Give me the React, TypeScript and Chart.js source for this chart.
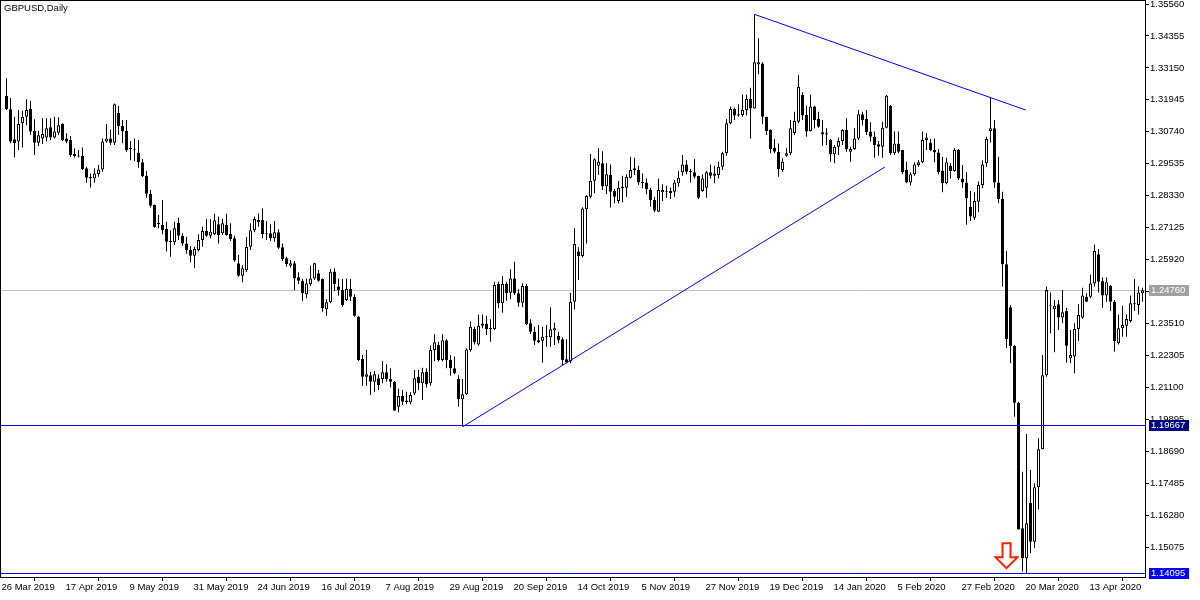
import React, { useEffect, useRef } from 'react';
import { Chart, registerables } from 'chart.js';
Chart.register(...registerables);

const TITLE = 'GBPUSD,Daily';

const OPEN = [
  1.3209, 1.3159, 1.3046, 1.3037, 1.3106, 1.3131, 1.3160, 1.3077, 1.3033, 1.3049,
  1.3052, 1.3091, 1.3052, 1.3070, 1.3103, 1.3049, 1.3043, 1.2990, 1.2983, 1.2983,
  1.2936, 1.2901, 1.2898, 1.2915, 1.2932, 1.3037, 1.3049, 1.3033, 1.3146, 1.3096,
  1.3078, 1.3014, 1.3008, 1.2995, 1.2959, 1.2908, 1.2840, 1.2798, 1.2731, 1.2722,
  1.2707, 1.2663, 1.2657, 1.2731, 1.2682, 1.2653, 1.2629, 1.2606, 1.2628, 1.2666,
  1.2700, 1.2682, 1.2687, 1.2725, 1.2691, 1.2722, 1.2688, 1.2672, 1.2578, 1.2531,
  1.2553, 1.2640, 1.2703, 1.2733, 1.2741, 1.2691, 1.2691, 1.2672, 1.2695, 1.2638,
  1.2597, 1.2569, 1.2578, 1.2525, 1.2512, 1.2461, 1.2499, 1.2521, 1.2540, 1.2519,
  1.2405, 1.2431, 1.2546, 1.2490, 1.2477, 1.2439, 1.2481, 1.2452, 1.2376, 1.2217,
  1.2150, 1.2156, 1.2131, 1.2144, 1.2141, 1.2167, 1.2141, 1.2131, 1.2037, 1.2077,
  1.2060, 1.2054, 1.2087, 1.2150, 1.2125, 1.2169, 1.2125, 1.2251, 1.2270, 1.2213,
  1.2288, 1.2213, 1.2182, 1.2141, 1.2065, 1.2084, 1.2251, 1.2330, 1.2272, 1.2342,
  1.2351, 1.2335, 1.2329, 1.2500, 1.2427, 1.2500, 1.2467, 1.2521, 1.2465, 1.2429,
  1.2492, 1.2352, 1.2320, 1.2280, 1.2286, 1.2301, 1.2299, 1.2324, 1.2304, 1.2291,
  1.2216, 1.2207, 1.2433, 1.2622, 1.2605, 1.2782, 1.2829, 1.2889, 1.2946, 1.2955,
  1.2869, 1.2911, 1.2851, 1.2813, 1.2861, 1.2863, 1.2901, 1.2929, 1.2930, 1.2883,
  1.2883, 1.2854, 1.2817, 1.2772, 1.2846, 1.2848, 1.2851, 1.2848, 1.2880, 1.2921,
  1.2951, 1.2926, 1.2921, 1.2907, 1.2851, 1.2863, 1.2921, 1.2908, 1.2911, 1.2942,
  1.2993, 1.3106, 1.3160, 1.3140, 1.3137, 1.3156, 1.3198, 1.3162, 1.3328, 1.3332,
  1.3131, 1.3081, 1.3014, 1.2999, 1.2930, 1.2984, 1.2993, 1.3068, 1.3112, 1.3213,
  1.3137, 1.3077, 1.3169, 1.3122, 1.3072, 1.3068, 1.3043, 1.2989, 1.3018, 1.3039,
  1.3081, 1.2999, 1.3009, 1.3049, 1.3140, 1.3122, 1.3075, 1.3055, 1.3027, 1.3018,
  1.3089, 1.3171, 1.2993, 1.3030, 1.3005, 1.2930, 1.2883, 1.2914, 1.2949, 1.2959,
  1.3043, 1.3034, 1.3005, 1.2996, 1.2926, 1.2880, 1.2946, 1.2926, 1.3005, 1.2898,
  1.2883, 1.2791, 1.2750, 1.2810, 1.2873, 1.2955, 1.3077, 1.3087, 1.2883, 1.2820,
  1.2574, 1.2412, 1.2266, 1.2052, 1.1578, 1.1465, 1.1675, 1.1528, 1.1733, 1.1876,
  1.2156, 1.2421, 1.2405, 1.2423, 1.2373, 1.2398, 1.2220, 1.2226, 1.2330, 1.2373,
  1.2452, 1.2452, 1.2502, 1.2612, 1.2511, 1.2456, 1.2493, 1.2433, 1.2276, 1.2333,
  1.2342, 1.2360, 1.2423, 1.2421, 1.2465,
];

const HIGH = [
  1.3276, 1.3201, 1.3131, 1.3156, 1.3153, 1.3197, 1.3191, 1.3121, 1.3078, 1.3125,
  1.3125, 1.3125, 1.3131, 1.3129, 1.3106, 1.3068, 1.3058, 1.3012, 1.3005, 1.3015,
  1.2942, 1.2917, 1.2936, 1.2949, 1.3049, 1.3103, 1.3083, 1.3181, 1.3171, 1.3118,
  1.3118, 1.3039, 1.3049, 1.3043, 1.2971, 1.2926, 1.2854, 1.2800, 1.2760, 1.2817,
  1.2735, 1.2703, 1.2735, 1.2750, 1.2691, 1.2678, 1.2643, 1.2640, 1.2687, 1.2716,
  1.2745, 1.2745, 1.2765, 1.2754, 1.2745, 1.2765, 1.2729, 1.2682, 1.2609, 1.2571,
  1.2677, 1.2729, 1.2754, 1.2766, 1.2785, 1.2737, 1.2725, 1.2737, 1.2706, 1.2653,
  1.2603, 1.2590, 1.2587, 1.2544, 1.2519, 1.2521, 1.2569, 1.2580, 1.2553, 1.2521,
  1.2443, 1.2556, 1.2559, 1.2521, 1.2519, 1.2521, 1.2519, 1.2461, 1.2380, 1.2232,
  1.2251, 1.2169, 1.2172, 1.2159, 1.2209, 1.2197, 1.2182, 1.2134, 1.2106, 1.2100,
  1.2093, 1.2091, 1.2175, 1.2175, 1.2184, 1.2182, 1.2267, 1.2310, 1.2282, 1.2310,
  1.2292, 1.2232, 1.2226, 1.2156, 1.2141, 1.2257, 1.2358, 1.2339, 1.2385, 1.2385,
  1.2380, 1.2367, 1.2508, 1.2508, 1.2530, 1.2508, 1.2555, 1.2584, 1.2480, 1.2502,
  1.2500, 1.2367, 1.2339, 1.2345, 1.2339, 1.2345, 1.2412, 1.2354, 1.2320, 1.2299,
  1.2291, 1.2467, 1.2710, 1.2638, 1.2789, 1.2835, 1.2990, 1.2974, 1.3012, 1.3001,
  1.2955, 1.2951, 1.2858, 1.2888, 1.2908, 1.2914, 1.2980, 1.2976, 1.2946, 1.2917,
  1.2898, 1.2863, 1.2829, 1.2898, 1.2876, 1.2870, 1.2863, 1.2892, 1.2926, 1.2986,
  1.2967, 1.2934, 1.2971, 1.2908, 1.2914, 1.2926, 1.2951, 1.2946, 1.2961, 1.2999,
  1.3122, 1.3169, 1.3165, 1.3178, 1.3215, 1.3215, 1.3240, 1.3517, 1.3427, 1.3336,
  1.3131, 1.3084, 1.3047, 1.3030, 1.2974, 1.3014, 1.3118, 1.3150, 1.3288, 1.3223,
  1.3172, 1.3215, 1.3172, 1.3150, 1.3118, 1.3087, 1.3047, 1.3024, 1.3052, 1.3084,
  1.3125, 1.3018, 1.3087, 1.3156, 1.3150, 1.3156, 1.3110, 1.3075, 1.3039, 1.3112,
  1.3213, 1.3175, 1.3075, 1.3075, 1.3005, 1.2961, 1.2921, 1.2959, 1.2967, 1.3075,
  1.3068, 1.3047, 1.3049, 1.3009, 1.2980, 1.2976, 1.2955, 1.3012, 1.3009, 1.2949,
  1.2921, 1.2851, 1.2846, 1.2886, 1.2967, 1.3055, 1.3202, 1.3118, 1.2980, 1.2848,
  1.2624, 1.2421, 1.2270, 1.2056, 1.1792, 1.1934, 1.1798, 1.1748, 1.1918, 1.2232,
  1.2490, 1.2468, 1.2439, 1.2439, 1.2477, 1.2410, 1.2326, 1.2352, 1.2423, 1.2486,
  1.2465, 1.2536, 1.2649, 1.2632, 1.2524, 1.2524, 1.2496, 1.2439, 1.2385, 1.2418,
  1.2385, 1.2456, 1.2519, 1.2490, 1.2486,
];

const LOW = [
  1.3156, 1.3031, 1.2977, 1.3005, 1.3015, 1.3099, 1.3062, 1.2986, 1.3020, 1.3028,
  1.3037, 1.3043, 1.3049, 1.3062, 1.3039, 1.3031, 1.2980, 1.2977, 1.2977, 1.2930,
  1.2882, 1.2864, 1.2882, 1.2904, 1.2923, 1.3033, 1.3024, 1.3024, 1.3062, 1.3031,
  1.2999, 1.2967, 1.2964, 1.2938, 1.2903, 1.2825, 1.2788, 1.2712, 1.2710, 1.2687,
  1.2622, 1.2603, 1.2647, 1.2666, 1.2644, 1.2614, 1.2582, 1.2559, 1.2622, 1.2640,
  1.2678, 1.2672, 1.2685, 1.2653, 1.2685, 1.2682, 1.2662, 1.2584, 1.2527, 1.2506,
  1.2545, 1.2628, 1.2695, 1.2716, 1.2672, 1.2666, 1.2662, 1.2659, 1.2632, 1.2587,
  1.2565, 1.2561, 1.2477, 1.2499, 1.2436, 1.2446, 1.2493, 1.2515, 1.2508, 1.2395,
  1.2380, 1.2427, 1.2473, 1.2456, 1.2414, 1.2436, 1.2436, 1.2376, 1.2209, 1.2116,
  1.2116, 1.2081, 1.2093, 1.2100, 1.2125, 1.2131, 1.2109, 1.2021, 1.2016, 1.2043,
  1.2046, 1.2046, 1.2081, 1.2100, 1.2062, 1.2109, 1.2116, 1.2209, 1.2207, 1.2207,
  1.2182, 1.2154, 1.2159, 1.2037, 1.1961, 1.2081, 1.2244, 1.2272, 1.2267, 1.2333,
  1.2307, 1.2282, 1.2326, 1.2408, 1.2391, 1.2437, 1.2442, 1.2458, 1.2414, 1.2412,
  1.2345, 1.2311, 1.2270, 1.2276, 1.2203, 1.2263, 1.2263, 1.2270, 1.2276, 1.2194,
  1.2201, 1.2201, 1.2404, 1.2515, 1.2600, 1.2653, 1.2823, 1.2842, 1.2911, 1.2854,
  1.2839, 1.2788, 1.2804, 1.2804, 1.2808, 1.2829, 1.2898, 1.2911, 1.2873, 1.2861,
  1.2838, 1.2791, 1.2770, 1.2772, 1.2813, 1.2825, 1.2820, 1.2829, 1.2867, 1.2908,
  1.2914, 1.2883, 1.2898, 1.2820, 1.2848, 1.2825, 1.2898, 1.2880, 1.2898, 1.2930,
  1.2984, 1.3102, 1.3118, 1.3131, 1.3131, 1.3135, 1.3049, 1.3162, 1.3291, 1.3102,
  1.3062, 1.2993, 1.2993, 1.2904, 1.2923, 1.2980, 1.2986, 1.3062, 1.3106, 1.3118,
  1.3055, 1.3075, 1.3087, 1.3089, 1.3021, 1.3024, 1.2961, 1.2955, 1.2986, 1.3024,
  1.2999, 1.2961, 1.3005, 1.3043, 1.3099, 1.3062, 1.3037, 1.2976, 1.2984, 1.2976,
  1.3087, 1.2986, 1.2986, 1.2993, 1.2914, 1.2880, 1.2871, 1.2908, 1.2942, 1.2955,
  1.3005, 1.3001, 1.2959, 1.2914, 1.2846, 1.2876, 1.2898, 1.2923, 1.2892, 1.2863,
  1.2723, 1.2737, 1.2741, 1.2770, 1.2861, 1.2942, 1.3034, 1.2863, 1.2804, 1.2490,
  1.2257, 1.2201, 1.1999, 1.1574, 1.1415, 1.14095, 1.1484, 1.1503, 1.1649, 1.1876,
  1.2150, 1.2314, 1.2242, 1.2326, 1.2352, 1.2204, 1.2201, 1.2163, 1.2285, 1.2368,
  1.2433, 1.2446, 1.2490, 1.2468, 1.2410, 1.2433, 1.2398, 1.2244, 1.2272, 1.2301,
  1.2301, 1.2355, 1.2398, 1.2385, 1.2433,
];

const CLOSE = [
  1.3159, 1.3037, 1.3031, 1.3103, 1.3131, 1.3156, 1.3075, 1.3033, 1.3061, 1.3066,
  1.3087, 1.3052, 1.3075, 1.3099, 1.3043, 1.3037, 1.2986, 1.2983, 1.2981, 1.2934,
  1.2901, 1.2900, 1.2917, 1.2932, 1.3037, 1.3049, 1.3033, 1.3178, 1.3096, 1.3075,
  1.3004, 1.3009, 1.3004, 1.2959, 1.2906, 1.2840, 1.2795, 1.2714, 1.2725, 1.2703,
  1.2659, 1.2657, 1.2710, 1.2682, 1.2653, 1.2627, 1.2606, 1.2632, 1.2666, 1.2700,
  1.2682, 1.2697, 1.2740, 1.2685, 1.2729, 1.2685, 1.2670, 1.2588, 1.2531, 1.2559,
  1.2639, 1.2703, 1.2745, 1.2741, 1.2687, 1.2687, 1.2672, 1.2695, 1.2637, 1.2594,
  1.2575, 1.2578, 1.2521, 1.2512, 1.2465, 1.2502, 1.2521, 1.2578, 1.2512, 1.2408,
  1.2431, 1.2546, 1.2499, 1.2477, 1.2421, 1.2481, 1.2452, 1.2380, 1.2213, 1.2150,
  1.2159, 1.2131, 1.2159, 1.2119, 1.2167, 1.2141, 1.2131, 1.2022, 1.2077, 1.2056,
  1.2054, 1.2081, 1.2144, 1.2125, 1.2167, 1.2121, 1.2251, 1.2280, 1.2213, 1.2288,
  1.2213, 1.2182, 1.2163, 1.2065, 1.2084, 1.2253, 1.2339, 1.2280, 1.2342, 1.2351,
  1.2330, 1.2329, 1.2496, 1.2427, 1.2500, 1.2465, 1.2521, 1.2465, 1.2429, 1.2492,
  1.2349, 1.2320, 1.2286, 1.2288, 1.2301, 1.2299, 1.2329, 1.2333, 1.2288, 1.2213,
  1.2204, 1.2433, 1.2651, 1.2605, 1.2785, 1.2832, 1.2889, 1.2970, 1.2961, 1.2869,
  1.2914, 1.2848, 1.2829, 1.2863, 1.2866, 1.2904, 1.2930, 1.2936, 1.2883, 1.2881,
  1.2857, 1.2817, 1.2776, 1.2854, 1.2854, 1.2850, 1.2842, 1.2883, 1.2901, 1.2951,
  1.2923, 1.2921, 1.2904, 1.2825, 1.2898, 1.2921, 1.2908, 1.2917, 1.2942, 1.2993,
  1.3106, 1.3160, 1.3135, 1.3135, 1.3156, 1.3198, 1.3162, 1.3336, 1.3336, 1.3131,
  1.3077, 1.3009, 1.2999, 1.2934, 1.2961, 1.2993, 1.3087, 1.3115, 1.3244, 1.3135,
  1.3075, 1.3169, 1.3118, 1.3093, 1.3064, 1.3064, 1.2989, 1.3018, 1.3039, 1.3081,
  1.3009, 1.3009, 1.3049, 1.3140, 1.3118, 1.3072, 1.3055, 1.3024, 1.3018, 1.3089,
  1.3210, 1.2993, 1.3030, 1.2999, 1.2921, 1.2883, 1.2914, 1.2951, 1.2959, 1.3043,
  1.3052, 1.3005, 1.2996, 1.2921, 1.2880, 1.2959, 1.2926, 1.3005, 1.2898, 1.2883,
  1.2823, 1.2754, 1.2813, 1.2873, 1.2951, 1.3047, 1.3087, 1.2883, 1.2820, 1.2574,
  1.2291, 1.2266, 1.2052, 1.1574, 1.1465, 1.1597, 1.1528, 1.1733, 1.1876, 1.2156,
  1.2477, 1.2418, 1.2418, 1.2373, 1.2393, 1.2267, 1.2232, 1.2330, 1.2383, 1.2456,
  1.2433, 1.2502, 1.2624, 1.2508, 1.2456, 1.2506, 1.2433, 1.2285, 1.2333, 1.2345,
  1.2368, 1.2427, 1.2427, 1.2468, 1.2476,
];

const X_TICK_LABELS = [
  '26 Mar 2019', '17 Apr 2019', '9 May 2019', '31 May 2019', '24 Jun 2019', '16 Jul 2019',
  '7 Aug 2019', '29 Aug 2019', '20 Sep 2019', '14 Oct 2019', '5 Nov 2019', '27 Nov 2019',
  '19 Dec 2019', '14 Jan 2020', '5 Feb 2020', '27 Feb 2020', '20 Mar 2020', '13 Apr 2020',
];
const X_TICK_FIRST = -1;
const X_TICK_STEP = 16;
const X_MIN = -1.625;
const X_MAX = 284.625;

const Y_TICKS = [
  1.3556, 1.34355, 1.3315, 1.31945, 1.3074, 1.29535, 1.2833, 1.27125, 1.2592,
  1.24715, 1.2351, 1.22305, 1.211, 1.19895, 1.1869, 1.17485, 1.1628, 1.15075,
];
const Y_MIN = 1.139456;
const Y_MAX = 1.35711;

const BID_PRICE = 1.2476;
const HLINE_PRICE = 1.19667;
const LOW_PRICE = 1.14095;

const TREND1_X = [114, 219.6];
const TREND1_Y = [1.1961, 1.2941];
const TREND2_X = [187, 254.8];
const TREND2_Y = [1.3517, 1.3156];

const ARROW_INDEX = 250;
const ARROW_PRICE = 1.1428;

const FONT_FAMILY = '"Liberation Sans", Arial, sans-serif';

export default function App() {
  const ref = useRef<HTMLCanvasElement>(null);

  useEffect(() => {
    document.body.style.margin = '0';
    const canvas = ref.current!;
    const idx = OPEN.map((_, i) => i);

    const overlay = {
      id: 'mtOverlay',
      beforeDraw(chart: any) {
        const ctx = chart.ctx;
        ctx.save();
        ctx.fillStyle = '#ffffff';
        ctx.fillRect(0, 0, chart.width, chart.height);
        ctx.restore();
      },
      beforeDatasetsDraw(chart: any) {
        const { ctx, chartArea: a, scales } = chart;
        const py = Math.round(scales.y.getPixelForValue(BID_PRICE)) + 0.5;
        ctx.save();
        ctx.strokeStyle = '#C0C0C0';
        ctx.lineWidth = 1;
        ctx.beginPath();
        ctx.moveTo(a.left, py);
        ctx.lineTo(a.right, py);
        ctx.stroke();
        ctx.restore();
      },
      afterDatasetsDraw(chart: any) {
        const { ctx, chartArea: a, scales } = chart;
        const xs = scales.x;
        const ys = scales.y;
        ctx.save();
        ctx.beginPath();
        ctx.rect(a.left, a.top, a.right - a.left, a.bottom - a.top);
        ctx.clip();
        ctx.strokeStyle = '#0000FF';
        ctx.lineWidth = 1;
        [HLINE_PRICE, LOW_PRICE].forEach((p) => {
          const py = Math.round(ys.getPixelForValue(p)) + 0.5;
          ctx.beginPath();
          ctx.moveTo(a.left, py);
          ctx.lineTo(a.right, py);
          ctx.stroke();
        });
        [[TREND1_X, TREND1_Y], [TREND2_X, TREND2_Y]].forEach(([tx, ty]) => {
          ctx.beginPath();
          ctx.moveTo(xs.getPixelForValue(tx[0]), ys.getPixelForValue(ty[0]));
          ctx.lineTo(xs.getPixelForValue(tx[1]), ys.getPixelForValue(ty[1]));
          ctx.stroke();
        });
        const ax = xs.getPixelForValue(ARROW_INDEX);
        const ay = ys.getPixelForValue(ARROW_PRICE);
        ctx.beginPath();
        ctx.moveTo(ax - 4, ay - 25);
        ctx.lineTo(ax + 4, ay - 25);
        ctx.lineTo(ax + 4, ay - 11);
        ctx.lineTo(ax + 11, ay - 11);
        ctx.lineTo(ax, ay);
        ctx.lineTo(ax - 11, ay - 11);
        ctx.lineTo(ax - 4, ay - 11);
        ctx.closePath();
        ctx.fillStyle = '#ffffff';
        ctx.fill();
        ctx.strokeStyle = '#FF2000';
        ctx.lineWidth = 2;
        ctx.stroke();
        ctx.restore();
      },
      afterDraw(chart: any) {
        const { ctx, chartArea: a, scales } = chart;
        const ys = scales.y;
        ctx.save();
        ctx.strokeStyle = '#000000';
        ctx.lineWidth = 1;
        ctx.strokeRect(a.left + 0.5, a.top + 0.5, a.right - a.left, a.bottom - a.top);
        ctx.font = `9.5px ${FONT_FAMILY}`;
        ctx.textBaseline = 'middle';
        ctx.textAlign = 'left';
        const boxes: [number, string][] = [
          [BID_PRICE, '#A0A0A0'],
          [HLINE_PRICE, '#000080'],
          [LOW_PRICE, '#0000FF'],
        ];
        boxes.forEach(([p, bg]) => {
          const py = Math.round(ys.getPixelForValue(p));
          ctx.fillStyle = bg;
          ctx.fillRect(a.right + 4, py - 5, 40, 11);
          ctx.fillStyle = '#ffffff';
          ctx.fillText(p.toFixed(5), a.right + 6, py + 0.5);
        });
        ctx.fillStyle = '#000000';
        ctx.fillText(TITLE, a.left + 4, a.top + 8);
        ctx.restore();
      },
    };

    const chart = new Chart(canvas, {
      type: 'bar',
      data: {
        datasets: [
          {
            label: 'wick',
            data: idx.map((i) => ({ x: i, y: [LOW[i], HIGH[i]] })) as any,
            backgroundColor: '#000000',
            borderWidth: 0,
            grouped: false,
            categoryPercentage: 1,
            barPercentage: 0.25,
            maxBarThickness: 1,
            inflateAmount: 0,
            order: 2,
          } as any,
          {
            label: 'body',
            data: idx.map((i) => ({ x: i, y: [OPEN[i], CLOSE[i]] })) as any,
            backgroundColor: idx.map((i) => (CLOSE[i] > OPEN[i] ? '#ffffff' : '#000000')),
            borderColor: '#000000',
            borderWidth: 1,
            borderSkipped: false,
            grouped: false,
            categoryPercentage: 1,
            barPercentage: 0.75,
            maxBarThickness: 3,
            minBarLength: 1,
            inflateAmount: 0,
            order: 1,
          } as any,
        ],
      },
      options: {
        responsive: false,
        animation: false,
        devicePixelRatio: 1,
        layout: { padding: 0 },
        plugins: { legend: { display: false }, tooltip: { enabled: false } },
        scales: {
          x: {
            type: 'linear',
            position: 'bottom',
            min: X_MIN,
            max: X_MAX,
            offset: false,
            border: { display: false },
            grid: { drawOnChartArea: false, drawTicks: true, tickLength: 4, color: '#000000' },
            afterBuildTicks: (axis: any) => {
              axis.ticks = X_TICK_LABELS.map((_, n) => ({ value: X_TICK_FIRST + n * X_TICK_STEP }));
            },
            afterFit: (axis: any) => {
              axis.height = 23;
              axis.paddingLeft = 0;
              axis.paddingRight = 0;
            },
            ticks: {
              autoSkip: false,
              maxRotation: 0,
              minRotation: 0,
              align: 'start',
              labelOffset: -1,
              padding: 1,
              color: '#000000',
              font: { family: FONT_FAMILY, size: 9.5 },
              callback: (v: any) => {
                const n = Math.round((Number(v) - X_TICK_FIRST) / X_TICK_STEP);
                return X_TICK_LABELS[n] ?? '';
              },
            },
          } as any,
          y: {
            type: 'linear',
            position: 'right',
            min: Y_MIN,
            max: Y_MAX,
            border: { display: false },
            grid: { drawOnChartArea: false, drawTicks: true, tickLength: 4, color: '#000000' },
            afterBuildTicks: (axis: any) => {
              axis.ticks = Y_TICKS.map((v) => ({ value: v }));
            },
            afterFit: (axis: any) => {
              axis.width = 55;
              axis.paddingTop = 0;
              axis.paddingBottom = 0;
            },
            ticks: {
              padding: 1,
              color: '#000000',
              font: { family: FONT_FAMILY, size: 9.5 },
              callback: (v: any) => Number(v).toFixed(5),
            },
          } as any,
        },
      },
      plugins: [overlay],
    });

    return () => chart.destroy();
  }, []);

  return (
    <canvas
      ref={ref}
      width={1200}
      height={600}
      style={{ display: 'block', width: 1200, height: 600 }}
    />
  );
}
